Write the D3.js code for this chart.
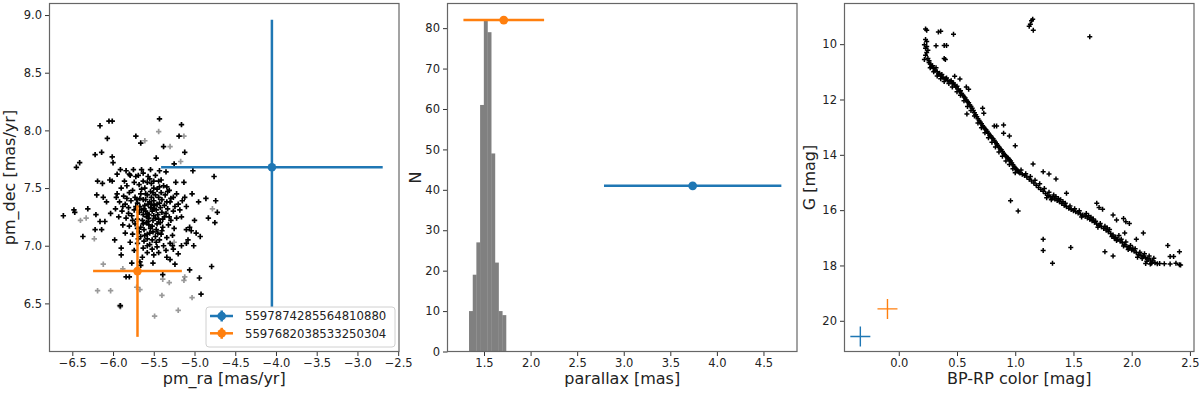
<!DOCTYPE html>
<html>
<head>
<meta charset="utf-8">
<script src="https://cdn.jsdelivr.net/npm/d3@7"></script>
<style>
body{margin:0;background:#fff}
svg{font-family:"DejaVu Sans",sans-serif}
</style>
</head>
<body>
<div class="canvas"></div>
<script>
// proper motion of cluster members [pm_ra, pm_dec]
const pmMembers = [
[-6.61,7.26],[-6.48,7.31],[-6.47,7.29],[-6.31,7.32],[-6.37,7.08],[-6.21,7.27],
[-6.45,7.68],[-6.41,7.72],[-6.22,7.79],[-6.14,7.81],[-6.16,8.04],[-6.05,8.08],[-6.01,8.08],[-6.01,7.77],[-6.00,7.72],[-6.07,7.93],
[-6.19,7.56],[-6.13,7.54],[-6.04,7.57],[-6.20,7.44],[-6.12,7.42],[-6.08,7.38],[-5.96,7.42],
[-6.16,7.21],[-6.10,7.21],[-6.22,7.14],[-6.14,7.14],
[-5.91,6.48],[-5.84,6.73],[-5.80,6.73],[-5.90,6.98],[-5.90,6.92],
[-5.72,7.95],[-5.66,7.89],[-5.43,8.10],[-5.38,7.86],[-5.47,7.76],[-5.19,7.95],[-5.16,8.05],[-5.12,7.81],[-5.25,7.71],
[-5.91,7.66],[-5.84,7.65],[-5.75,7.66],[-5.65,7.66],[-5.54,7.66],[-5.79,7.61],[-5.69,7.61],[-5.43,7.65],
[-5.02,7.65],[-4.76,7.60],
[-4.86,7.41],[-4.74,7.39],[-4.72,7.29],[-4.83,7.24],[-4.75,7.20],[-4.93,7.08],[-5.01,7.00],[-5.10,7.02],
[-4.79,6.82],[-4.94,6.72],[-4.92,6.58],[-5.06,6.79],
[-5.39,6.75],[-5.77,6.85],[-5.67,6.86],[-5.66,6.83],[-5.51,6.85],[-5.30,6.88],[-5.24,6.84],
[-5.50,6.92],[-5.34,6.90],[-5.20,6.93],[-5.27,7.00],[-5.26,6.97],[-5.08,7.05],[-5.06,7.16],[-5.04,7.13],[-4.98,7.11],
[-5.10,7.14],[-5.16,7.25],[-5.10,7.34],[-5.24,7.34],[-5.15,7.39],[-5.12,7.42],[-5.26,7.42],[-5.31,7.48],[-5.34,7.51],
[-5.43,7.51],[-5.03,7.45],[-4.95,7.38],[-5.64,6.90],[-5.58,6.94],[-5.98,7.05],[-6.03,7.28],[-6.01,7.56],[-5.95,7.62],
[-5.35,7.64],[-5.23,7.55],[-5.13,7.55],[-5.00,7.22],[-5.16,7.00],
[-5.80,7.62],[-5.72,7.60],[-5.63,7.63],[-5.55,7.58],[-5.48,7.61],[-5.86,7.56],[-5.41,7.57],
[-5.90,7.50],[-5.83,7.52],[-5.76,7.48],[-5.68,7.53],[-5.61,7.50],[-5.53,7.54],[-5.46,7.49],[-5.38,7.52],[-5.33,7.47],
[-5.95,7.45],[-5.87,7.43],[-5.80,7.46],[-5.73,7.42],[-5.66,7.45],[-5.58,7.44],[-5.51,7.46],[-5.44,7.42],[-5.36,7.44],[-5.29,7.41],[-5.22,7.45],
[-5.92,7.38],[-5.85,7.36],[-5.78,7.39],[-5.70,7.37],[-5.63,7.40],[-5.57,7.36],[-5.50,7.39],[-5.43,7.37],[-5.37,7.35],[-5.30,7.38],[-5.20,7.36],
[-5.97,7.32],[-5.89,7.30],[-5.81,7.33],[-5.74,7.31],[-5.67,7.34],[-5.60,7.30],[-5.54,7.33],[-5.47,7.31],[-5.40,7.29],[-5.33,7.32],[-5.26,7.30],[-5.18,7.31],
[-5.93,7.25],[-5.84,7.24],[-5.77,7.26],[-5.70,7.23],[-5.63,7.27],[-5.56,7.24],[-5.50,7.26],[-5.44,7.23],[-5.37,7.25],[-5.29,7.22],[-5.22,7.24],
[-5.88,7.18],[-5.80,7.17],[-5.73,7.19],[-5.66,7.16],[-5.59,7.20],[-5.52,7.17],[-5.46,7.19],[-5.39,7.16],[-5.32,7.18],[-5.25,7.15],
[-5.85,7.11],[-5.76,7.10],[-5.68,7.12],[-5.61,7.09],[-5.55,7.11],[-5.48,7.08],[-5.41,7.10],[-5.34,7.07],[-5.27,7.09],
[-5.79,7.03],[-5.70,7.02],[-5.62,7.04],[-5.55,7.01],[-5.47,7.03],[-5.38,7.00],[-5.30,7.02],
[-5.74,6.96],[-5.63,6.98],[-5.52,6.97],[-5.44,6.94],[-5.35,6.96],
[-5.58,7.28],[-5.52,7.30],[-5.49,7.35],[-5.55,7.38],[-5.61,7.35],[-5.64,7.22],[-5.57,7.21],[-5.51,7.22],[-5.45,7.27],
[-5.42,7.33],[-5.53,7.42],[-5.60,7.40],[-5.68,7.29],[-5.71,7.40],[-5.47,7.14],[-5.54,7.15],[-5.62,7.14],[-5.40,7.40],
[-5.35,7.28],[-5.65,7.49],[-5.50,7.50],[-5.58,7.55],[-5.44,7.56],[-5.74,7.55],[-5.69,7.06],[-5.58,7.06],[-5.43,7.05],
[-5.62,7.32],[-5.56,7.27],[-5.50,7.32],[-5.46,7.36],[-5.53,7.36],[-5.59,7.25],[-5.65,7.31],[-5.48,7.24],[-5.42,7.20],
[-5.56,7.18],[-5.63,7.19],[-5.70,7.15],[-5.51,7.12],[-5.45,7.11],[-5.58,7.10],[-5.66,7.08],[-5.52,7.05],[-5.60,7.45],
[-5.54,7.47],[-5.48,7.44],[-5.41,7.46],[-5.67,7.41],[-5.72,7.34],[-5.76,7.22],[-5.81,7.28],[-5.39,7.23],[-5.34,7.38],
[-5.31,7.25],[-5.57,7.60],[-5.50,7.56],[-5.63,7.56],[-5.46,6.99],[-5.58,7.00],[-5.40,7.13],[-5.83,7.41],[-5.88,7.34]
];
// lower-probability members (drawn faint)
const pmFaint = [
[-6.40,7.22],[-6.33,7.24],[-6.23,7.06],[-6.12,6.84],[-6.19,6.61],[-6.03,6.61],[-5.88,6.80],[-5.92,6.48],[-5.91,6.47],
[-5.71,6.64],[-5.67,6.62],[-5.49,6.39],[-5.40,6.57],[-5.39,6.71],[-5.31,6.68],[-5.12,6.73],[-5.13,6.70],[-5.20,6.44],
[-5.03,6.55],[-4.78,7.32],[-5.17,7.73],[-5.30,7.86],[-5.13,7.95],[-5.44,7.99],[-5.61,7.91],[-5.25,7.03]
];

const starIds = ["5597874285564810880", "5597682038533250304"];
const starPmRa = [-4.05, -5.70];
const starPmRaErr = [1.36, 0.545];
const starPmDec = [7.68, 6.78];
const starPmDecErr = [1.28, 0.57];

const plxEdges = [1.339,1.379,1.418,1.458,1.498,1.537,1.577,1.617,1.656,1.696,1.736];
const plxCounts = [10,19,27,61,82,79,49,22,10,9];
const starPlx = [3.74, 1.712];
const starPlxErr = [0.952, 0.433];
const starPlxN = [41, 82];

// colour-magnitude diagram of members [BP-RP, G]
const cmdMembers = [
[0.23,9.45],[0.24,9.50],[0.23,9.83],[0.24,9.90],[0.22,10.02],[0.24,10.08],[0.23,10.15],[0.25,10.22],[0.24,10.30],
[0.23,10.40],[0.25,10.52],[0.22,10.55],[0.26,10.60],
[0.34,9.56],[0.36,9.53],[0.47,9.64],[0.32,10.06],[0.39,10.05],[0.41,10.05],[0.39,10.52],[0.40,10.55],
[1.12,9.35],[1.13,9.28],[1.14,9.15],[1.15,9.10],[1.155,9.50],[1.64,9.73],
[0.26,10.66],[0.27,10.72],[0.28,10.80],[0.29,10.78],[0.30,10.88],[0.31,10.94],[0.32,10.85],[0.33,11.00],[0.34,11.08],
[0.35,11.05],[0.36,11.15],[0.37,11.10],[0.38,11.20],[0.40,11.25],[0.41,11.22],[0.42,11.30],[0.44,11.35],[0.45,11.32],
[0.46,11.42],[0.47,11.40],[0.48,11.48],[0.49,11.55],[0.50,11.52],[0.51,11.62],[0.52,11.70],[0.53,11.68],[0.54,11.78],
[0.55,11.85],[0.56,11.90],[0.57,11.95],[0.58,12.02],[0.59,12.08],[0.60,12.12],[0.61,12.20],[0.62,12.25],[0.63,12.32],
[0.64,12.40],[0.65,12.48],[0.66,12.55],[0.67,12.62],[0.68,12.70],[0.69,12.76],[0.70,12.82],[0.71,12.88],[0.72,12.95],
[0.73,13.00],[0.74,13.06],[0.75,13.10],[0.76,13.16],[0.77,13.22],[0.78,13.28],[0.79,13.32],[0.80,13.38],[0.81,13.42],
[0.82,13.48],[0.83,13.55],[0.84,13.60],[0.85,13.66],[0.86,13.72],[0.87,13.78],[0.88,13.82],[0.89,13.88],[0.90,13.95],
[0.91,14.00],[0.92,14.05],[0.93,14.10],[0.94,14.12],[0.95,14.18],[0.96,14.22],[0.97,14.30],[0.98,14.36],[0.99,14.42],
[1.00,14.48],[1.01,14.52],[1.02,14.58],[1.03,14.62],
[0.27,10.85],[0.30,11.00],[0.33,11.15],[0.36,11.25],[0.39,11.35],[0.43,11.42],[0.46,11.55],[0.50,11.72],[0.53,11.85],
[0.56,12.05],[0.59,12.25],[0.62,12.40],[0.65,12.60],[0.68,12.85],[0.71,13.02],[0.74,13.20],[0.77,13.38],[0.80,13.55],
[0.83,13.72],[0.86,13.90],[0.89,14.05],[0.92,14.22],[0.95,14.35],[0.98,14.50],[1.00,14.65],
[0.48,11.16],[0.525,11.26],[0.58,11.55],[0.60,11.63],[0.72,12.32],[0.73,12.50],[0.585,12.52],
[0.82,12.96],[0.84,12.96],[0.90,12.92],[0.90,13.22],[0.95,13.32],[1.00,13.67],
[1.04,14.66],[1.06,14.70],[1.08,14.75],[1.10,14.80],[1.12,14.88],[1.14,14.95],[1.16,15.02],[1.18,15.10],[1.20,15.18],
[1.22,15.25],[1.24,15.32],[1.26,15.40],[1.28,15.46],[1.30,15.52],[1.32,15.56],[1.34,15.60],[1.36,15.65],[1.38,15.70],
[1.40,15.76],[1.42,15.82],[1.44,15.88],[1.46,15.93],[1.48,15.98],[1.50,16.02],[1.52,16.06],[1.54,16.10],[1.56,16.14],
[1.58,16.18],[1.60,16.22],[1.62,16.28],[1.64,16.33],[1.66,16.38],[1.68,16.44],[1.70,16.50],[1.72,16.55],[1.74,16.60],
[1.76,16.66],[1.78,16.72],[1.80,16.78],[1.82,16.84],[1.84,16.90],[1.86,16.98],[1.88,17.05],[1.90,17.12],[1.92,17.18],
[1.94,17.25],[1.96,17.32],[1.98,17.38],[2.00,17.44],[2.02,17.48],[2.04,17.54],[2.06,17.60],[2.08,17.64],[2.10,17.68],
[2.12,17.72],[2.14,17.76],[2.16,17.80],[2.18,17.84],[2.20,17.90],[2.24,17.93],[2.28,17.94],[2.33,17.95],[2.38,17.92],[2.41,17.97],
[1.05,14.55],[1.09,14.68],[1.13,14.78],[1.17,14.92],[1.21,15.05],[1.25,15.22],[1.27,15.55],[1.29,15.35],[1.31,15.62],
[1.33,15.45],[1.35,15.52],[1.37,15.58],[1.39,15.62],[1.41,15.70],[1.43,15.75],[1.47,15.85],[1.51,15.95],[1.55,16.02],
[1.57,16.25],[1.61,16.12],[1.63,16.20],[1.65,16.26],[1.67,16.32],[1.69,16.40],[1.71,16.62],[1.73,16.48],[1.77,16.58],
[1.79,16.65],[1.81,16.70],[1.83,16.95],[1.85,17.02],[1.87,17.10],[1.89,16.92],[1.91,17.05],[1.93,17.30],[1.95,17.15],
[1.97,17.42],[1.99,17.28],[2.01,17.38],[2.03,17.40],[2.05,17.70],[2.07,17.52],[2.09,17.75],[2.11,17.58],[2.13,17.85],
[2.15,17.66],[2.17,17.92],[2.19,17.74],
[1.153,14.33],[1.24,14.61],[1.29,14.69],[1.35,14.87],[1.44,15.39],[0.96,15.66],[1.025,16.03],[1.24,17.05],[1.24,17.46],
[1.32,17.92],[1.477,17.35],[1.70,15.75],[1.72,15.90],[1.75,15.97],[1.84,16.18],[1.87,16.36],[1.93,16.30],[1.95,16.42],
[1.98,16.48],[1.94,16.83],[2.10,16.83],[2.04,17.05],[2.31,17.28],[2.33,17.68],[2.36,17.68],[2.41,17.50],[2.42,17.98],
[1.77,17.50],[1.84,17.66],[2.12,17.93],[2.16,17.95],[2.22,17.94]
];
const starBpRp = [-0.33, -0.097];
const starG = [20.57, 19.57];

const blue = "#1f77b4", orange = "#ff7f0e";
const starCols = [blue, orange];
const W = 1200, H = 394;
const plotTop = 3.5, ph = 348;
const lefts = [49.5, 447.5, 844.5], pw = 349.5;

const svg = d3.select(".canvas").append("svg")
  .attr("width", W).attr("height", H)
  .style("background-color", "white");

const plus = r => `M${-r},0H${r}M0,${-r}V${r}`;

function panel(i, xScale, yScale, xTicks, yTicks, xFmt, yFmt, xLabel, yLabel, yLabelX) {
  const g = svg.append("g").attr("transform", `translate(${lefts[i]},${plotTop})`);
  const xa = d3.axisBottom(xScale).tickValues(xTicks).tickFormat(xFmt)
    .tickSize(4.5).tickPadding(3);
  const ya = d3.axisLeft(yScale).tickValues(yTicks).tickFormat(yFmt)
    .tickSize(4.5).tickPadding(3);
  const gx = g.append("g").attr("transform", `translate(0,${ph})`).call(xa);
  const gy = g.append("g").call(ya);
  [gx, gy].forEach(a => {
    a.select(".domain").remove();
    a.selectAll("line").attr("stroke", "#333");
    a.selectAll("text").attr("fill", "#222").style("font-size", "11.5px")
      .style("font-family", "DejaVu Sans");
  });
  svg.append("text")
    .attr("x", lefts[i] + pw / 2).attr("y", 383.5)
    .attr("text-anchor", "middle").style("font-size", "16px").attr("fill", "#222")
    .text(xLabel);
  svg.append("text")
    .attr("transform", `translate(${yLabelX},${plotTop + ph / 2}) rotate(-90)`)
    .attr("text-anchor", "middle").style("font-size", "16px").attr("fill", "#222")
    .text(yLabel);
  const plot = g.append("g");
  return {g, plot};
}

function spine(g) {
  g.append("rect").attr("width", pw).attr("height", ph)
    .attr("fill", "none").attr("stroke", "#666").attr("stroke-width", 1.2);
}

// ---- panel 1: proper motions
const x1 = d3.scaleLinear().domain([-6.78, -2.49]).range([0, pw]);
const y1 = d3.scaleLinear().domain([6.083, 9.10]).range([ph, 0]);
const p1 = panel(0, x1, y1, d3.range(-6.5, -2.49, 0.5), d3.range(6.5, 9.01, 0.5),
  d3.format(".1f"), d3.format(".1f"), "pm_ra [mas/yr]", "pm_dec [mas/yr]", 14.8);

p1.plot.selectAll(".faint").data(pmFaint).enter().append("path")
  .attr("d", plus(2.7)).attr("transform", d => `translate(${x1(d[0])},${y1(d[1])})`)
  .attr("stroke", "#000").attr("stroke-opacity", 0.4).attr("stroke-width", 1.7);
p1.plot.selectAll(".mem").data(pmMembers).enter().append("path")
  .attr("d", plus(2.7)).attr("transform", d => `translate(${x1(d[0])},${y1(d[1])})`)
  .attr("stroke", "#000").attr("stroke-width", 1.7);

starIds.forEach((id, k) => {
  const e = p1.plot.append("g").attr("stroke", starCols[k]).attr("stroke-width", 2.5);
  e.append("line")
    .attr("x1", x1(starPmRa[k] - starPmRaErr[k])).attr("x2", x1(starPmRa[k] + starPmRaErr[k]))
    .attr("y1", y1(starPmDec[k])).attr("y2", y1(starPmDec[k]));
  e.append("line")
    .attr("x1", x1(starPmRa[k])).attr("x2", x1(starPmRa[k]))
    .attr("y1", y1(starPmDec[k] - starPmDecErr[k])).attr("y2", y1(starPmDec[k] + starPmDecErr[k]));
  e.append("circle").attr("cx", x1(starPmRa[k])).attr("cy", y1(starPmDec[k]))
    .attr("r", 4.3).attr("fill", starCols[k]).attr("stroke", "none");
});

// legend
const lg = p1.g.append("g").attr("transform", `translate(${206 - lefts[0]},${307 - plotTop})`);
lg.append("rect").attr("width", 189).attr("height", 40).attr("rx", 3)
  .attr("fill", "white").attr("stroke", "#d0d0d0");
starIds.forEach((id, k) => {
  const yy = 9 + k * 17.3;
  const h = lg.append("g").attr("stroke", starCols[k]).attr("stroke-width", 2.5);
  h.append("line").attr("x1", 4).attr("x2", 27).attr("y1", yy).attr("y2", yy);
  h.append("line").attr("x1", 15.7).attr("x2", 15.7).attr("y1", yy - 5.5).attr("y2", yy + 5.5);
  h.append("circle").attr("cx", 15.7).attr("cy", yy).attr("r", 4.3)
    .attr("fill", starCols[k]).attr("stroke", "none");
  lg.append("text").attr("x", 39).attr("y", yy + 4.2)
    .style("font-size", "11.7px").attr("fill", "#222").text(id);
});
spine(p1.g);

// ---- panel 2: parallax histogram
const x2 = d3.scaleLinear().domain([1.108, 4.86]).range([0, pw]);
const y2 = d3.scaleLinear().domain([0, 86.1]).range([ph, 0]);
const p2 = panel(1, x2, y2, d3.range(1.5, 4.51, 0.5), d3.range(0, 81, 10),
  d3.format(".1f"), d3.format("d"), "parallax [mas]", "N", 420.7);

p2.plot.selectAll("rect").data(plxCounts).enter().append("rect")
  .attr("x", (d, i) => x2(plxEdges[i]))
  .attr("width", (d, i) => x2(plxEdges[i + 1]) - x2(plxEdges[i]) + 0.3)
  .attr("y", d => y2(d)).attr("height", d => y2(0) - y2(d))
  .attr("fill", "#808080");

[0, 1].forEach(k => {
  const e = p2.plot.append("g").attr("stroke", starCols[k]).attr("stroke-width", 2.5);
  e.append("line")
    .attr("x1", x2(starPlx[k] - starPlxErr[k])).attr("x2", x2(starPlx[k] + starPlxErr[k]))
    .attr("y1", y2(starPlxN[k])).attr("y2", y2(starPlxN[k]));
  e.append("circle").attr("cx", x2(starPlx[k])).attr("cy", y2(starPlxN[k]))
    .attr("r", 4.4).attr("fill", starCols[k]).attr("stroke", "none");
});
spine(p2.g);

// ---- panel 3: CMD
const x3 = d3.scaleLinear().domain([-0.466, 2.535]).range([0, pw]);
const y3 = d3.scaleLinear().domain([21.11, 8.53]).range([ph, 0]);
const p3 = panel(2, x3, y3, d3.range(0, 2.51, 0.5), d3.range(10, 20.1, 2),
  d3.format(".1f"), d3.format("d"), "BP-RP color [mag]", "G [mag]", 815);

p3.plot.selectAll(".cmd").data(cmdMembers).enter().append("path")
  .attr("d", plus(2.5)).attr("transform", d => `translate(${x3(d[0])},${y3(d[1])})`)
  .attr("stroke", "#000").attr("stroke-width", 1.5);
[0, 1].forEach(k => {
  p3.plot.append("path").attr("d", plus(10))
    .attr("transform", `translate(${x3(starBpRp[k])},${y3(starG[k])})`)
    .attr("stroke", starCols[k]).attr("stroke-width", 1.4).attr("fill", "none");
});
spine(p3.g);
</script>
</body>
</html>
